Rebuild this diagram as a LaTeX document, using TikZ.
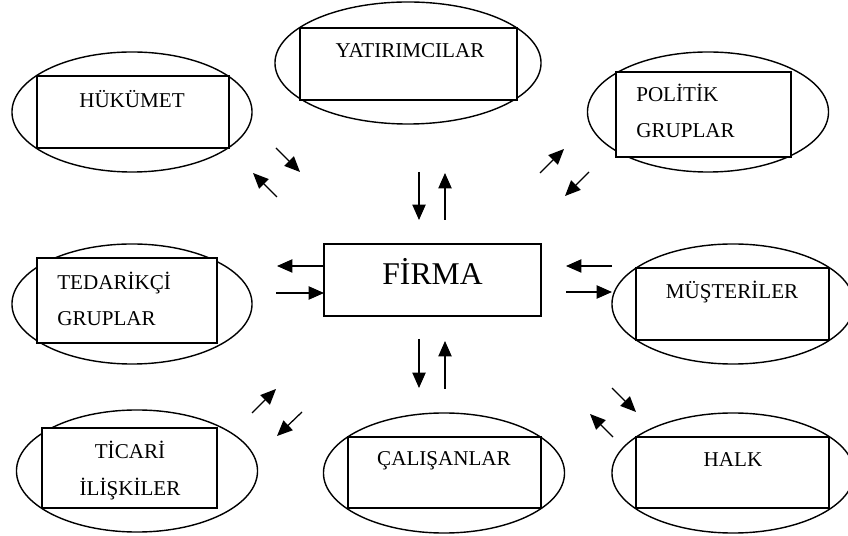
\documentclass[tikz,border=0pt]{standalone}
\usepackage{fontspec}
\setmainfont{Liberation Serif}
\usetikzlibrary{shapes}
\usetikzlibrary{arrows.meta}
\tikzset{
	basenode/.style = {
		inner sep=0pt,
		outer sep=0pt,
		line width=1pt
	},
	node_oval/.style = {
		basenode,
		ellipse,
		draw=black,
		minimum width=6cm,
		minimum height=3cm
	},
	node_box/.style = {
		basenode,
		rectangle,
		draw=black,
		fill=white,
		minimum width=4.825cm,
		minimum height=1.8cm
	},
	node_text/.style = {
		inner sep=0pt,
		anchor=base,
		font=\fontsize{15}{26}\selectfont
	},
	node_text_left/.style = {
		node_text,
		align=left,
		anchor=base west
	},
	node_text_center/.style = {
		node_text,
		align=center
	},
	node_firma/.style = {
		node_text,
		font=\fontsize{22.5}{27}\selectfont
	},
	flow/.style = {
		->,
		line width=0.9pt
	},
}

\begin{document}
\begin{tikzpicture}[x=0.025cm,y=-0.025cm,>={Triangle[length=11pt,width=9.5pt]}]
\useasboundingbox (0,0) rectangle (848,536);
\clip (0,0) rectangle (848,536);

% outer ovals
\node [node_oval] (huk_o) at (132,112) {};
\node [node_oval, minimum width=6.65cm, minimum height=3.05cm] (yat_o) at (408,63) {};
\node [node_oval, minimum width=6.025cm] (pol_o) at (708,112) {};
\node [node_oval] (ted_o) at (132,304) {};
\node [node_oval, minimum width=6.025cm, minimum height=3.05cm] (tic_o) at (137,471) {};
\node [node_oval, minimum width=6.025cm] (cal_o) at (444,473) {};
\node [node_oval, minimum width=6.05cm] (mus_o) at (733,304) {};
\node [node_oval, minimum width=6.05cm] (halk_o) at (733,473) {};

% boxes
\node [node_box, minimum width=4.8cm] (huk) at (133,112) {};
\node [node_box, minimum width=5.425cm] (yat) at (408.5,64) {};
\node [node_box, minimum width=4.375cm, minimum height=2.125cm] (pol) at (703.5,114.5) {};
\node [node_box, minimum width=4.5cm, minimum height=2.125cm] (ted) at (127,300.5) {};
\node [node_box, minimum width=4.375cm, minimum height=2cm] (tic) at (129.5,468) {};
\node [node_box, minimum height=1.775cm] (cal) at (444.5,472.5) {};
\node [node_box] (mus) at (732.5,304) {};
\node [node_box, minimum height=1.775cm] (halk) at (732.5,472.5) {};
\node [node_box, minimum width=5.425cm] (firma) at (432.5,280) {};

% labels (multi-line ones sit on their last line)
\node [node_text] (huk_t) at (132,108) {HÜKÜMET};
\node [node_text] (yat_t) at (410,58) {YATIRIMCILAR};
\node [node_text_left] (pol_t) at (636,138) {POLİTİK\\GRUPLAR};
\node [node_text_left] (ted_t) at (57,326) {TEDARİKÇİ\\GRUPLAR};
\node [node_text_center] (tic_t) at (130,495) {TİCARİ\\İLİŞKİLER};
\node [node_text] (cal_t) at (444,466) {ÇALIŞANLAR};
\node [node_text] (mus_t) at (732,299) {MÜŞTERİLER};
\node [node_text] (halk_t) at (733,467) {HALK};
\node [node_firma] (firma_t) at (432.5,285) {FİRMA};

% arrow pairs
\foreach \name/\s/\e in {
	yat_in/{419,172}/{419,220}, yat_out/{445,220}/{445,173},
	cal_out/{419,339}/{419,388}, cal_in/{445,389}/{445,341},
	ted_out/{324,266}/{277,266}, ted_in/{276,293}/{324,293},
	mus_in/{612,266}/{566,266}, mus_out/{566,292}/{612,292},
	huk_in/{276,148}/{300,172}, huk_out/{277,197}/{253,173},
	pol_out/{540,173}/{564,149}, pol_in/{589,172}/{565,196},
	tic_out/{252,413}/{276,389}, tic_in/{302,412}/{277,436},
	halk_out/{612,388}/{636,412}, halk_in/{613,437}/{590,414}} {
	\coordinate (\name_s) at (\s);
	\coordinate (\name_e) at (\e);
	\draw [flow] (\name_s) -- (\name_e);
}
\end{tikzpicture}
\end{document}
